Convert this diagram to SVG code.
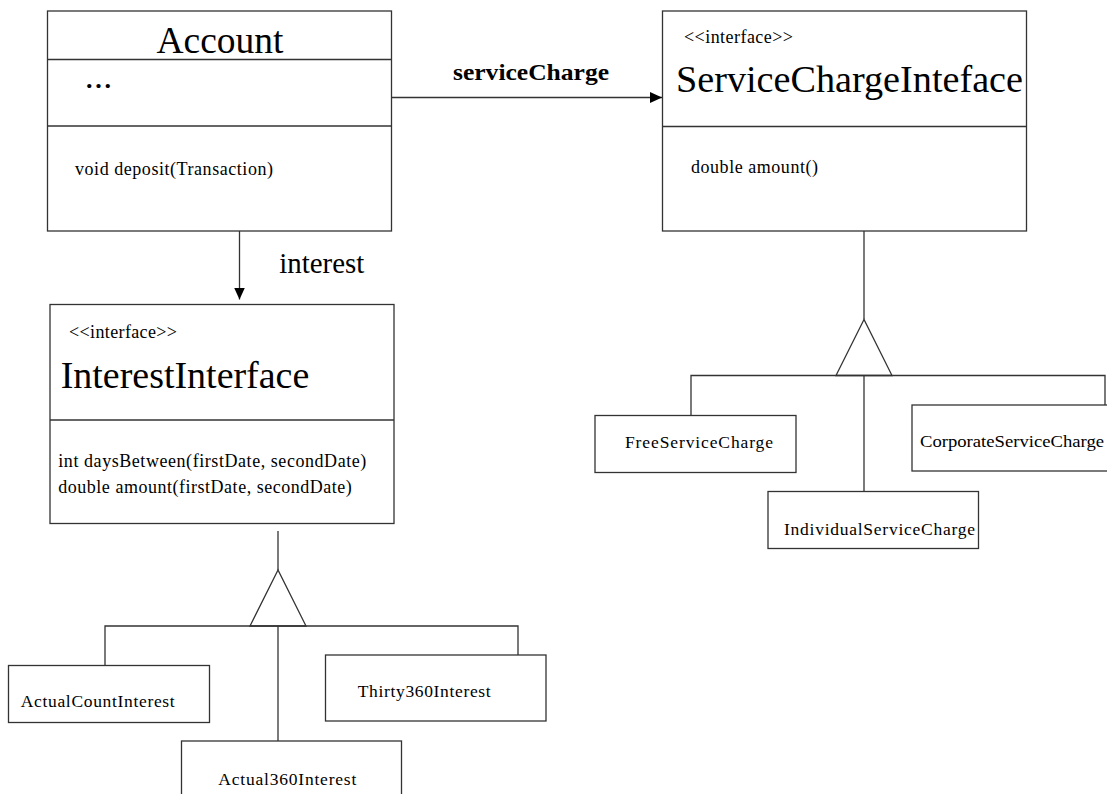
<svg xmlns="http://www.w3.org/2000/svg" width="1107" height="794" viewBox="0 0 1107 794">
<style>
.box{fill:#fff;stroke:#333;stroke-width:1.3}
.ln{fill:none;stroke:#333;stroke-width:1.3}
.tri{fill:#fff;stroke:#333;stroke-width:1.3}
text{font-family:"Liberation Serif","Times New Roman",serif;fill:#000}
.title{font-size:38px}
.small{font-size:18px}
.cls{font-size:17.5px}
</style>
<defs>
<marker id="arr" viewBox="0 0 12 12" refX="12" refY="6" markerWidth="12" markerHeight="12" markerUnits="userSpaceOnUse" orient="auto">
<path d="M0,0.5 L12,6 L0,11.5 Z" fill="#000"/>
</marker>
</defs>
<rect width="1107" height="794" fill="#fff"/>
<g id="connectors">
<line class="ln" x1="392" y1="97.5" x2="662" y2="97.5" marker-end="url(#arr)"/>
<text x="453" y="80" font-size="24" font-weight="bold" textLength="156" lengthAdjust="spacingAndGlyphs">serviceCharge</text>
<line class="ln" x1="239.5" y1="231" x2="239.5" y2="299.5" marker-end="url(#arr)"/>
<text x="279.3" y="273.3" font-size="29" textLength="85" lengthAdjust="spacingAndGlyphs">interest</text>
<line class="ln" x1="278" y1="531" x2="278" y2="570"/>
<polygon class="tri" points="278,570 250,626 306,626"/>
<polyline class="ln" points="105,665.5 105,626 518,626 518,655"/>
<line class="ln" x1="278" y1="626" x2="278" y2="741"/>
<line class="ln" x1="864" y1="231" x2="864" y2="319.5"/>
<polygon class="tri" points="864,319.5 836,375.5 892,375.5"/>
<polyline class="ln" points="691,415.5 691,375.5 1105,375.5 1105,405"/>
<line class="ln" x1="864" y1="375.5" x2="864" y2="491.5"/>
</g>
<g id="Account">
<rect class="box" x="47.5" y="11" width="344" height="220"/>
<line class="ln" x1="47.5" y1="59.5" x2="391.5" y2="59.5"/>
<line class="ln" x1="47.5" y1="126" x2="391.5" y2="126"/>
<text class="title" x="220" y="53" text-anchor="middle" textLength="127" lengthAdjust="spacingAndGlyphs">Account</text>
<text x="86" y="88" font-size="26" font-weight="bold" textLength="25" lengthAdjust="spacing">...</text>
<text class="small" x="75" y="175" textLength="198" lengthAdjust="spacing">void deposit(Transaction)</text>
</g>
<g id="ServiceChargeInteface">
<rect class="box" x="662.5" y="11" width="364" height="220"/>
<line class="ln" x1="662.5" y1="126.5" x2="1026.5" y2="126.5"/>
<text class="small" x="684" y="43" textLength="109" lengthAdjust="spacing">&lt;&lt;interface&gt;&gt;</text>
<text class="title" x="676" y="91.7" textLength="347" lengthAdjust="spacingAndGlyphs">ServiceChargeInteface</text>
<text class="small" x="691" y="173" textLength="127" lengthAdjust="spacing">double amount()</text>
</g>
<g id="InterestInterface">
<rect class="box" x="50" y="304.5" width="344" height="219"/>
<line class="ln" x1="50" y1="420" x2="394" y2="420"/>
<text class="small" x="69" y="338" textLength="108" lengthAdjust="spacing">&lt;&lt;interface&gt;&gt;</text>
<text class="title" x="60.7" y="388" textLength="248.6" lengthAdjust="spacingAndGlyphs">InterestInterface</text>
<text class="small" x="58.3" y="467.3" textLength="308" lengthAdjust="spacing">int daysBetween(firstDate, secondDate)</text>
<text class="small" x="58.3" y="492.5" textLength="293.5" lengthAdjust="spacing">double amount(firstDate, secondDate)</text>
</g>
<g id="ActualCountInterest">
<rect class="box" x="8.5" y="665.5" width="201" height="57"/>
<text class="cls" x="20.7" y="706.7" textLength="154" lengthAdjust="spacing">ActualCountInterest</text>
</g>
<g id="Thirty360Interest">
<rect class="box" x="325.5" y="655" width="220.5" height="66"/>
<text class="cls" x="357.7" y="697.3" textLength="133" lengthAdjust="spacing">Thirty360Interest</text>
</g>
<g id="Actual360Interest">
<rect class="box" x="181.5" y="741" width="220" height="70"/>
<text class="cls" x="218.3" y="784.5" textLength="138" lengthAdjust="spacing">Actual360Interest</text>
</g>
<g id="FreeServiceCharge">
<rect class="box" x="595" y="415.5" width="201" height="57"/>
<text class="cls" x="625" y="448.3" textLength="148" lengthAdjust="spacing">FreeServiceCharge</text>
</g>
<g id="IndividualServiceCharge">
<rect class="box" x="768" y="491.5" width="210.5" height="57"/>
<text class="cls" x="784" y="535" textLength="191" lengthAdjust="spacing">IndividualServiceCharge</text>
</g>
<g id="CorporateServiceCharge">
<rect class="box" x="912" y="405" width="220" height="66"/>
<text class="cls" x="920" y="446.7" textLength="184" lengthAdjust="spacingAndGlyphs">CorporateServiceCharge</text>
</g>
</svg>
